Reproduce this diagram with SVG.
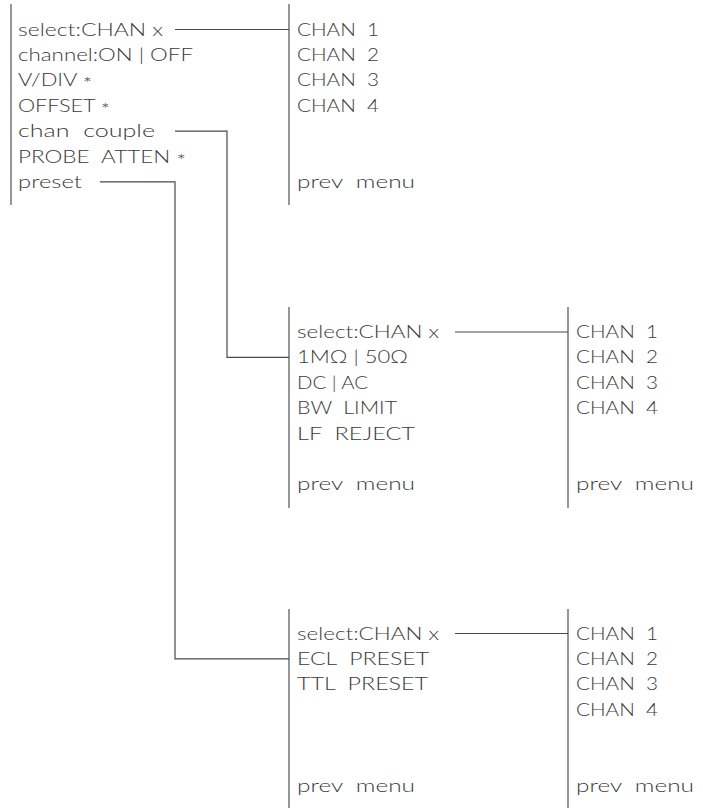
<svg xmlns="http://www.w3.org/2000/svg" width="703" height="808" viewBox="0 0 703 808">
<style>
.t{font-family:Lato,"Liberation Sans",Arial,sans-serif;font-weight:300;font-size:17px;fill:#3a3a3a;white-space:pre}
.bar{stroke:#6a6a6a;stroke-width:1.4;fill:none}
.con{stroke:#4a4a4a;stroke-width:1.2;fill:none}
</style>
<rect width="703" height="808" fill="#ffffff"/>
<g id="menu-channel">
<line class="bar" x1="11" y1="4" x2="11" y2="205"/>
<text class="t" x="18" y="35.5" textLength="145" lengthAdjust="spacingAndGlyphs">select:CHAN x</text>
<text class="t" x="18" y="60.9" textLength="175" lengthAdjust="spacingAndGlyphs">channel:ON | OFF</text>
<text class="t" x="18" y="86.3" textLength="74" lengthAdjust="spacingAndGlyphs">V/DIV <tspan dy="4">*</tspan></text>
<text class="t" x="18" y="111.7" textLength="92" lengthAdjust="spacingAndGlyphs">OFFSET <tspan dy="4">*</tspan></text>
<text class="t" x="18" y="137.1" textLength="137" lengthAdjust="spacingAndGlyphs">chan  couple</text>
<text class="t" x="18" y="162.5" textLength="168" lengthAdjust="spacingAndGlyphs">PROBE  ATTEN <tspan dy="4">*</tspan></text>
<text class="t" x="18" y="187.9" textLength="64" lengthAdjust="spacingAndGlyphs">preset</text>
</g>
<g id="menu-select-1">
<line class="bar" x1="289" y1="4" x2="289" y2="205"/>
<text class="t" x="297" y="35.5" textLength="82" lengthAdjust="spacingAndGlyphs">CHAN  1</text>
<text class="t" x="297" y="60.9" textLength="82" lengthAdjust="spacingAndGlyphs">CHAN  2</text>
<text class="t" x="297" y="86.3" textLength="82" lengthAdjust="spacingAndGlyphs">CHAN  3</text>
<text class="t" x="297" y="111.7" textLength="82" lengthAdjust="spacingAndGlyphs">CHAN  4</text>
<text class="t" x="297" y="187.9" textLength="118" lengthAdjust="spacingAndGlyphs">prev  menu</text>
</g>
<g id="menu-couple">
<line class="bar" x1="289" y1="307" x2="289" y2="508"/>
<text class="t" x="297" y="338" textLength="142" lengthAdjust="spacingAndGlyphs">select:CHAN x</text>
<text class="t" x="297" y="363.4" textLength="111" lengthAdjust="spacingAndGlyphs">1MΩ | 50Ω</text>
<text class="t" x="297" y="388.8" textLength="71" lengthAdjust="spacingAndGlyphs">DC | AC</text>
<text class="t" x="297" y="414.2" textLength="100" lengthAdjust="spacingAndGlyphs">BW  LIMIT</text>
<text class="t" x="297" y="439.6" textLength="118" lengthAdjust="spacingAndGlyphs">LF  REJECT</text>
<text class="t" x="297" y="490.4" textLength="118" lengthAdjust="spacingAndGlyphs">prev  menu</text>
</g>
<g id="menu-select-2">
<line class="bar" x1="568" y1="307" x2="568" y2="508"/>
<text class="t" x="576" y="338" textLength="82" lengthAdjust="spacingAndGlyphs">CHAN  1</text>
<text class="t" x="576" y="363.4" textLength="82" lengthAdjust="spacingAndGlyphs">CHAN  2</text>
<text class="t" x="576" y="388.8" textLength="82" lengthAdjust="spacingAndGlyphs">CHAN  3</text>
<text class="t" x="576" y="414.2" textLength="82" lengthAdjust="spacingAndGlyphs">CHAN  4</text>
<text class="t" x="576" y="490.4" textLength="118" lengthAdjust="spacingAndGlyphs">prev  menu</text>
</g>
<g id="menu-preset">
<line class="bar" x1="289" y1="609" x2="289" y2="808"/>
<text class="t" x="297" y="639.5" textLength="142" lengthAdjust="spacingAndGlyphs">select:CHAN x</text>
<text class="t" x="297" y="664.9" textLength="132" lengthAdjust="spacingAndGlyphs">ECL  PRESET</text>
<text class="t" x="297" y="690.3" textLength="131" lengthAdjust="spacingAndGlyphs">TTL  PRESET</text>
<text class="t" x="297" y="791.9" textLength="118" lengthAdjust="spacingAndGlyphs">prev  menu</text>
</g>
<g id="menu-select-3">
<line class="bar" x1="568" y1="609" x2="568" y2="808"/>
<text class="t" x="576" y="639.5" textLength="82" lengthAdjust="spacingAndGlyphs">CHAN  1</text>
<text class="t" x="576" y="664.9" textLength="82" lengthAdjust="spacingAndGlyphs">CHAN  2</text>
<text class="t" x="576" y="690.3" textLength="82" lengthAdjust="spacingAndGlyphs">CHAN  3</text>
<text class="t" x="576" y="715.7" textLength="82" lengthAdjust="spacingAndGlyphs">CHAN  4</text>
<text class="t" x="576" y="791.9" textLength="118" lengthAdjust="spacingAndGlyphs">prev  menu</text>
</g>
<g id="connectors">
<polyline class="con" points="175,29.5 289,29.5"/>
<polyline class="con" points="175,131.1 227,131.1 227,357.4 289,357.4"/>
<polyline class="con" points="100,181.9 175,181.9 175,658.9 289,658.9"/>
<polyline class="con" points="455,332 568,332"/>
<polyline class="con" points="455,633.5 568,633.5"/>
</g>
</svg>
